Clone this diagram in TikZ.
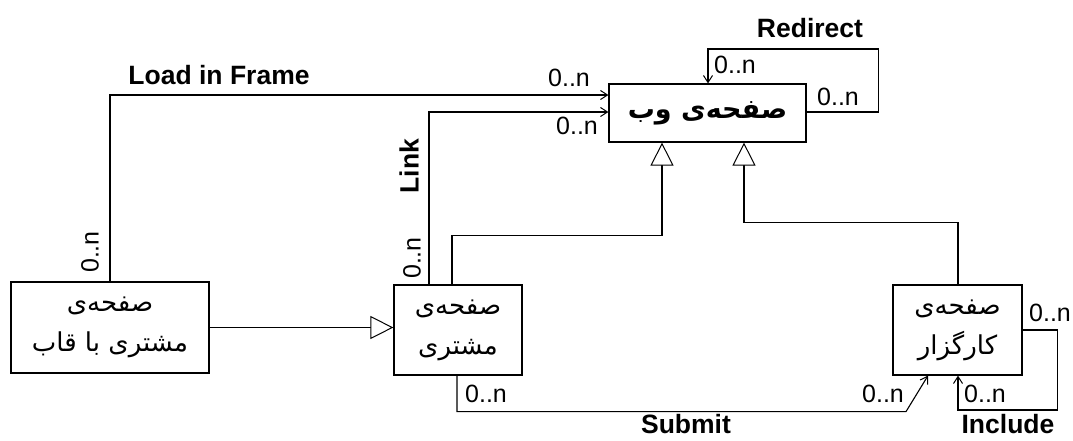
\documentclass[tikz,border=0pt]{standalone}
\usepackage{fontspec}
\setmainfont{Liberation Sans}
\newfontfamily\arabicfont[Script=Arabic]{DejaVu Sans}
\TeXXeTstate=1
\usetikzlibrary{arrows.meta}
\begin{document}
\begin{tikzpicture}[x=1pt,y=-1pt,
  cls/.style={draw,line width=1.2pt,fill=white,inner sep=0pt,align=center,
    font=\arabicfont\fontsize{26}{40}\selectfont},
  assoc/.style={line width=1.1pt,-{Straight Barb[length=7pt,width=9pt,line width=1pt]}},
  gen/.style={line width=1.1pt,-{Triangle[open,length=23pt,width=23pt,fill=white,line width=1pt]}},
  mult/.style={inner sep=0pt,font=\fontsize{25}{25}\selectfont},
  role/.style={inner sep=0pt,font=\bfseries\fontsize{26.5}{27}\selectfont}]
\useasboundingbox (0,0) rectangle (1073,440);
\fill[white] (0,0) rectangle (1073,440);

% classes
\node[cls,minimum width=197pt,minimum height=58pt,font=\arabicfont\bfseries\fontsize{27}{34}\selectfont]
  (web) at (707.5,113) {\beginR صفحه‌ی وب\endR};
\node[cls,minimum width=198pt,minimum height=91pt] (frame) at (110,327.5)
  {\beginR صفحه‌ی\endR\\\beginR مشتری با قاب\endR};
\node[cls,minimum width=128pt,minimum height=90pt] (client) at (458,330)
  {\beginR صفحه‌ی\endR\\\beginR مشتری\endR};
\node[cls,minimum width=129pt,minimum height=90pt] (server) at (957.5,330)
  {\beginR صفحه‌ی\endR\\\beginR کارگزار\endR};

% generalizations
\draw[gen] (frame.east) -- (client.west |- frame.east);
\draw[gen] ([xshift=-6pt]client.north) -- ++(0,-49) -| ([xshift=-45.5pt]web.south);
\draw[gen] ([xshift=0.5pt]server.north) -- ++(0,-62) -| ([xshift=36.5pt]web.south);

% associations
\draw[assoc] (frame.north) |- ([yshift=18pt]web.west);
\draw[assoc] ([xshift=-29pt]client.north) |- ([yshift=1pt]web.west);
\draw[assoc] ([yshift=1pt]web.east) -- ++(72,0) -- ++(0,-63) -| ([xshift=0.5pt]web.north);
\draw[assoc] ([xshift=-1pt]client.south) -- ++(0,36) -- ++(449,0) -- ([xshift=-29.5pt]server.south);
\draw[assoc] (server.east) -- ++(35,0) -- ++(0,80) -| ([xshift=0.5pt]server.south);

% role names
\node[role] (lLoad) at (219,75) {Load in Frame};
\node[role,rotate=90] (lLink) at (409,166) {Link};
\node[role] (lRedir) at (810,28) {Redirect};
\node[role] (lSubmit) at (686,424) {Submit};
\node[role] (lInclude) at (1008,424) {Include};

% multiplicities
\node[mult,rotate=90] (m1) at (90,252) {0..n};
\node[mult] (m2) at (569,78) {0..n};
\node[mult,rotate=90] (m3) at (412,258) {0..n};
\node[mult] (m4) at (577,126) {0..n};
\node[mult] (m5) at (735,65) {0..n};
\node[mult] (m6) at (838,97) {0..n};
\node[mult] (m7) at (486,394) {0..n};
\node[mult] (m8) at (883,394) {0..n};
\node[mult] (m9) at (1050,313) {0..n};
\node[mult] (m10) at (985,394) {0..n};
\end{tikzpicture}
\end{document}
